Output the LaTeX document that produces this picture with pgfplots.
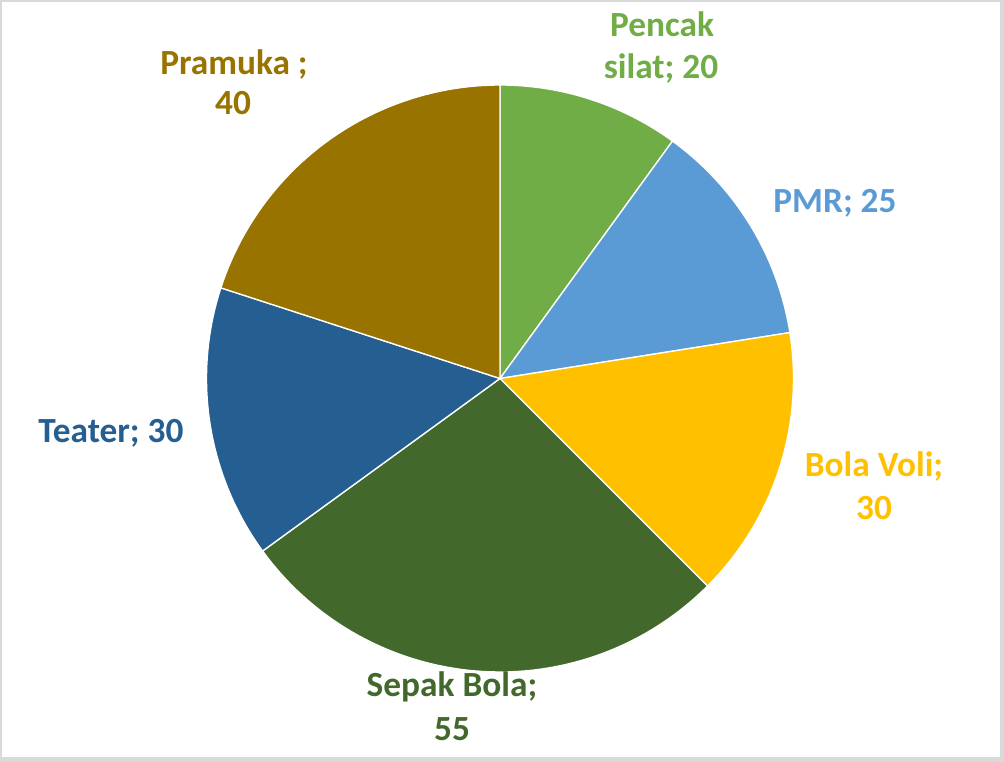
\documentclass[border=0pt]{standalone}
\usepackage{pgfplots}
\pgfplotsset{compat=1.18}
\usepackage{fontspec}
\setmainfont{Carlito}
\definecolor{cSilat}{HTML}{70AD47}
\definecolor{cPMR}{HTML}{5B9BD5}
\definecolor{cVoli}{HTML}{FFC000}
\definecolor{cSepak}{HTML}{43682B}
\definecolor{cTeater}{HTML}{255E91}
\definecolor{cPramuka}{HTML}{997300}
\definecolor{cBorder}{HTML}{D9D9D9}
\begin{document}
\begin{tikzpicture}
% values (total 200), clockwise from 12 o'clock
\def\vSilat{20}\def\vPMR{25}\def\vVoli{30}\def\vSepak{55}\def\vTeater{30}\def\vPramuka{40}
\pgfmathsetmacro\tot{\vSilat+\vPMR+\vVoli+\vSepak+\vTeater+\vPramuka}
\pgfmathsetmacro\aA{90}
\pgfmathsetmacro\aB{\aA-(\vSilat/\tot)*360}
\pgfmathsetmacro\aC{\aB-(\vPMR/\tot)*360}
\pgfmathsetmacro\aD{\aC-(\vVoli/\tot)*360}
\pgfmathsetmacro\aE{\aD-(\vSepak/\tot)*360}
\pgfmathsetmacro\aF{\aE-(\vTeater/\tot)*360}
\pgfmathsetmacro\aG{\aF-(\vPramuka/\tot)*360}
\def\cx{500}\def\cy{378.5}\def\r{293.5}
\begin{axis}[
  scale only axis, width=753pt, height=571.5pt,
  xmin=0, xmax=1004, ymin=0, ymax=762, y dir=reverse,
  axis lines=none, clip=false,
]
\fill[cBorder] (axis cs:0,0) rectangle (axis cs:1004,762);
\fill[white] (axis cs:2,2) rectangle (axis cs:1000,757);
\addplot[fill=cSilat, draw=white, line width=1pt, domain=\aB:\aA, samples=40]
  ({\cx+\r*cos(x)},{\cy-\r*sin(x)}) -- (axis cs:\cx,\cy) -- cycle;
\addplot[fill=cPMR, draw=white, line width=1pt, domain=\aC:\aB, samples=40]
  ({\cx+\r*cos(x)},{\cy-\r*sin(x)}) -- (axis cs:\cx,\cy) -- cycle;
\addplot[fill=cVoli, draw=white, line width=1pt, domain=\aD:\aC, samples=40]
  ({\cx+\r*cos(x)},{\cy-\r*sin(x)}) -- (axis cs:\cx,\cy) -- cycle;
\addplot[fill=cSepak, draw=white, line width=1pt, domain=\aE:\aD, samples=60]
  ({\cx+\r*cos(x)},{\cy-\r*sin(x)}) -- (axis cs:\cx,\cy) -- cycle;
\addplot[fill=cTeater, draw=white, line width=1pt, domain=\aF:\aE, samples=40]
  ({\cx+\r*cos(x)},{\cy-\r*sin(x)}) -- (axis cs:\cx,\cy) -- cycle;
\addplot[fill=cPramuka, draw=white, line width=1pt, domain=\aG:\aF, samples=50]
  ({\cx+\r*cos(x)},{\cy-\r*sin(x)}) -- (axis cs:\cx,\cy) -- cycle;
\tikzset{lab/.style={anchor=base, inner sep=0pt, font=\fontsize{26.5}{32}\selectfont\bfseries}}
\node[lab, text=cSilat] at (axis cs:662,37) {Pencak};
\node[lab, text=cSilat] at (axis cs:661,79) {silat; 20};
\node[lab, text=cPMR] at (axis cs:835,213) {PMR; 25};
\node[lab, text=cVoli] at (axis cs:874,477) {Bola Voli;};
\node[lab, text=cVoli] at (axis cs:874,520) {30};
\node[lab, text=cSepak] at (axis cs:452,697) {Sepak Bola;};
\node[lab, text=cSepak] at (axis cs:452,741) {55};
\node[lab, text=cTeater] at (axis cs:111,443) {Teater; 30};
\node[lab, text=cPramuka] at (axis cs:234,75) {Pramuka ;};
\node[lab, text=cPramuka] at (axis cs:233,115) {40};
\end{axis}
\end{tikzpicture}
\end{document}
